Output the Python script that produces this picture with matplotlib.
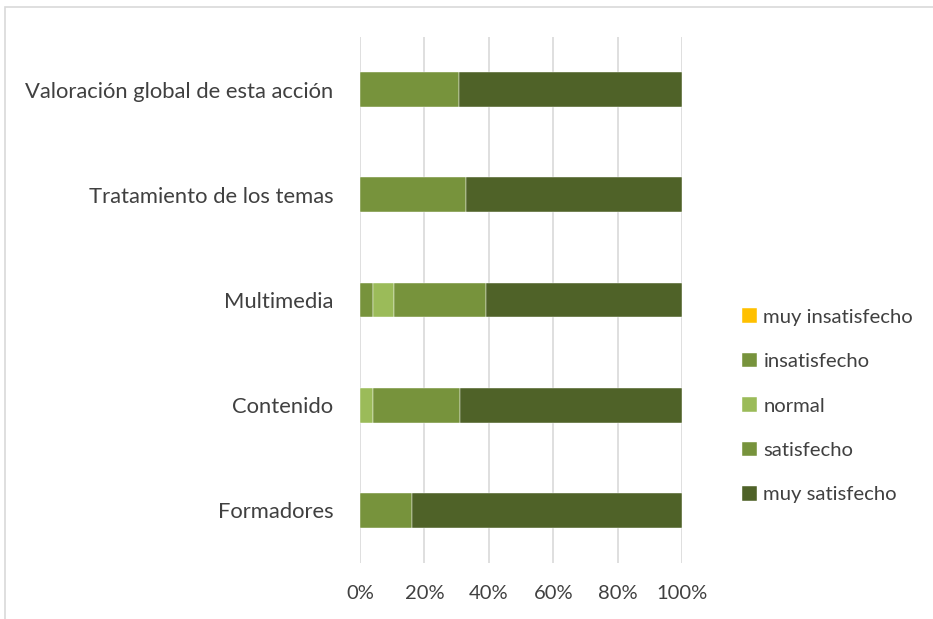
import matplotlib
matplotlib.use("Agg")
import matplotlib.pyplot as plt
from matplotlib.patches import Rectangle
import numpy as np

categories = ["Formadores", "Contenido", "Multimedia", "Tratamiento de los temas",
              "Valoración global de esta acción"]
series_names = ["muy insatisfecho", "insatisfecho", "normal", "satisfecho", "muy satisfecho"]
muy_insatisfecho = [0, 0, 0, 0, 0]
insatisfecho = [0, 0, 4.1, 0, 0]
normal = [0, 4.0, 6.4, 0, 0]
satisfecho = [16.0, 27.0, 28.5, 33.0, 30.7]
muy_satisfecho = [84.0, 69.0, 61.0, 67.0, 69.3]
colors = ["#FFC000", "#77933C", "#9BBB59", "#77933C", "#4F6228"]
xticks = [0, 20, 40, 60, 80, 100]
xticklabels = ["0%", "20%", "40%", "60%", "80%", "100%"]

plt.rcParams['font.family'] = ['Lato', 'DejaVu Sans']

fig = plt.figure(figsize=(9.33, 6.19), dpi=100)
W, H = 933, 619
ax = fig.add_axes([360 / W, 1 - 563 / H, 322 / W, 526 / H])

# outer chart frame
fig.patches.append(Rectangle((5 / W, -0.1), 1.2, (1 - 7 / H) + 0.1,
                             transform=fig.transFigure, fill=False,
                             edgecolor="#D9D9D9", linewidth=1.2))

y = np.arange(len(categories))
left = np.zeros(len(categories))
data = [muy_insatisfecho, insatisfecho, normal, satisfecho, muy_satisfecho]
for name, vals, c in zip(series_names, data, colors):
    vals = np.array(vals, dtype=float)
    ax.barh(y, vals, left=left, height=0.33, color=c, label=name,
            edgecolor="white", linewidth=0.3, zorder=3)
    left += vals

ax.set_xlim(0, 100)
ax.set_ylim(-0.5, len(categories) - 0.5)
ax.set_xticks(xticks)
ax.set_xticklabels(xticklabels, fontsize=14.5, color="#404040")
ax.set_yticks(y)
ax.set_yticklabels(categories, fontsize=15.8, color="#404040")
ax.tick_params(axis="both", length=0)
ax.tick_params(axis="x", pad=16)
ax.tick_params(axis="y", pad=19)
ax.grid(axis="x", color="#D9D9D9", linewidth=1.2, zorder=0)
for s in ax.spines.values():
    s.set_visible(False)

handles, labels = ax.get_legend_handles_labels()
leg = fig.legend(handles, labels, loc="upper left", bbox_to_anchor=(734 / W, 1 - 300 / H),
                 frameon=False, fontsize=14.6, handlelength=0.75, handleheight=0.75,
                 handletextpad=0.3, labelspacing=1.33, borderaxespad=0)
for t in leg.get_texts():
    t.set_color("#404040")

fig.savefig("out.png", dpi=100)
